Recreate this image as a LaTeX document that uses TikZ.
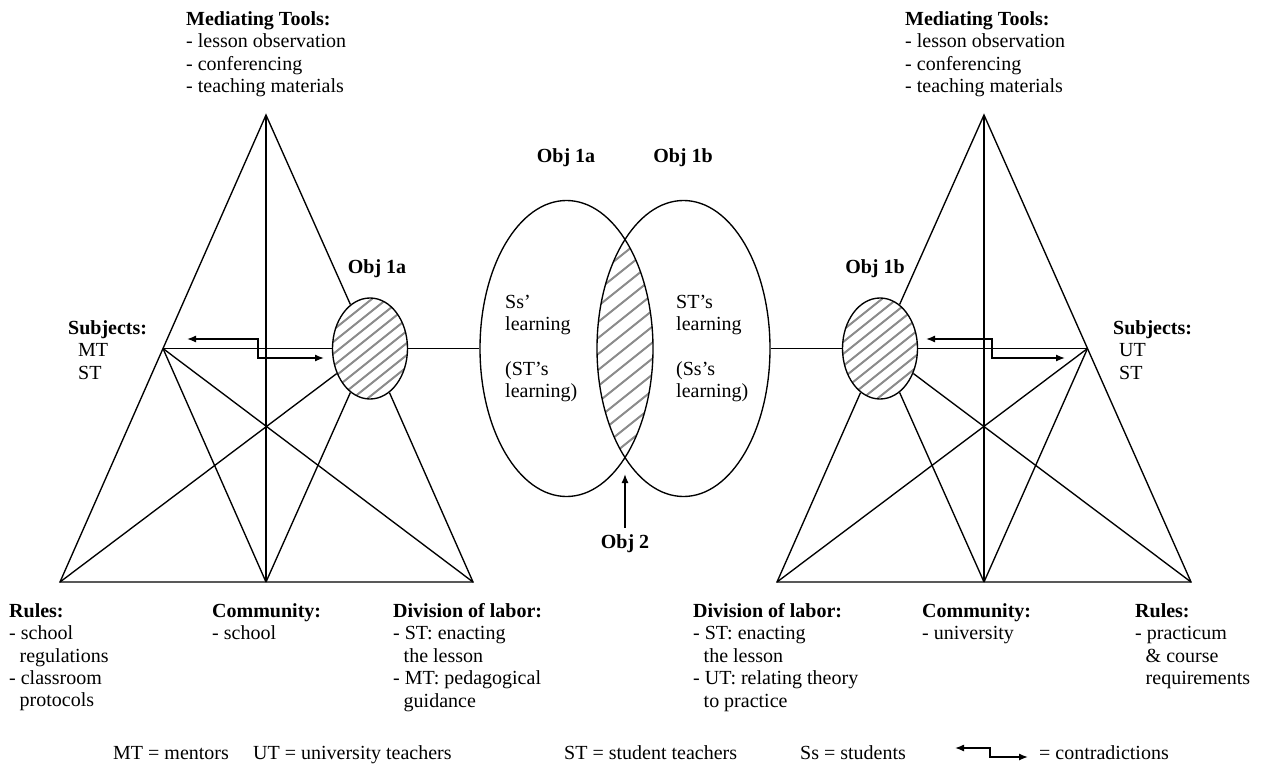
\documentclass[tikz,border=0pt]{standalone}
\usepackage{fontspec}
\setmainfont{Liberation Serif}
\usetikzlibrary{shapes.geometric,arrows.meta}
\begin{document}
\begin{tikzpicture}[x=1pt,y=-1pt,
  ln/.style={line width=1.35pt, black},
  tip/.style={-{Latex[length=9pt,width=7pt]}},
  dtip/.style={{Latex[length=9pt,width=7pt]}-{Latex[length=9pt,width=7pt]}},
  txt/.style={font=\fontsize{20}{22.4}\selectfont, inner sep=0pt, align=left},
  hd/.style={inner sep=0pt, font=\fontsize{20}{22.4}\selectfont\bfseries},
  hatchline/.style={line width=2pt, black!45},
  smallobj/.style={ellipse, draw, line width=1.35pt, fill=white, inner sep=0pt,
    minimum width=75pt, minimum height=101pt,
    path picture={\foreach \k in {-8,...,8}{\draw[hatchline] ([xshift=\k*15pt]path picture bounding box.center) ++(-70pt,-56pt) -- ++(140pt,112pt);}}},
  bigobj/.style={ellipse, draw, line width=1.35pt, inner sep=0pt,
    minimum width=173pt, minimum height=296pt}
]
\useasboundingbox (0,0) rectangle (1264,768);
\fill[white] (0,0) rectangle (1264,768);

% ---- central lens hatching ----
\begin{scope}
  \clip (566.5,348.5) ellipse [x radius=86.5pt, y radius=148pt];
  \clip (683.5,348.5) ellipse [x radius=86.5pt, y radius=148pt];
  \foreach \k in {-14,...,14}{\draw[hatchline] ([xshift=\k*20pt]625,348.5) ++(-200pt,-160pt) -- ++(400pt,320pt);}
\end{scope}
\node[bigobj] (E1) at (566.5,348.5) {};
\node[bigobj] (E2) at (683.5,348.5) {};

% ---- left triangle ----
\coordinate (A1) at (266,115);
\coordinate (R1) at (60,582);
\coordinate (C1) at (266,582);
\coordinate (D1) at (473,582);
\coordinate (S1) at (163,348.5);
\node[smallobj] (O1) at (370,348.5) {};
\draw[ln] (O1) -- (A1) -- (R1) -- (D1) -- (O1);
\draw[ln] (A1) -- (C1);
\draw[ln] (S1) -- (O1);
\draw[ln] (S1) -- (C1);
\draw[ln] (S1) -- (D1);
\draw[ln] (O1) -- (R1);
\draw[ln] (O1) -- (C1);
\draw[ln] (O1) -- (E1);

% ---- right triangle ----
\coordinate (A2) at (984,115);
\coordinate (D2) at (777,582);
\coordinate (C2) at (984,582);
\coordinate (R2) at (1191,582);
\coordinate (S2) at (1087.5,348.5);
\node[smallobj] (O2) at (880,348.5) {};
\draw[ln] (O2) -- (A2) -- (R2) -- (D2) -- (O2);
\draw[ln] (A2) -- (C2);
\draw[ln] (S2) -- (O2);
\draw[ln] (S2) -- (C2);
\draw[ln] (S2) -- (D2);
\draw[ln] (O2) -- (R2);
\draw[ln] (O2) -- (C2);
\draw[ln] (E2) -- (O2);

% ---- contradiction arrows ----
\coordinate (ca1) at (187,339);
\coordinate (cb1) at (258,339);
\coordinate (cc1) at (258,358);
\coordinate (cd1) at (324,358);
\draw[ln,dtip] (ca1) -- (cb1) -- (cc1) -- (cd1);
\coordinate (ca2) at (926,339);
\coordinate (cb2) at (992,339);
\coordinate (cc2) at (992,358);
\coordinate (cd2) at (1065,358);
\draw[ln,dtip] (ca2) -- (cb2) -- (cc2) -- (cd2);

% ---- Obj 2 ----
\node[hd, anchor=base] (o2) at (625,548) {Obj 2};
\coordinate (o2tip) at (625,474);
\draw[ln,tip] ([yshift=6pt]o2.north) -- (o2tip);

% ---- labels ----
\node[hd, anchor=base] (l1a) at (377,273) {Obj 1a};
\node[hd, anchor=base] (l1b) at (875,273) {Obj 1b};
\node[hd, anchor=base] (c1a) at (566,162) {Obj 1a};
\node[hd, anchor=base] (c1b) at (683,162) {Obj 1b};

\node[txt, anchor=north west] (tools1) at (186,11.3) {\textbf{Mediating Tools:}\\- lesson observation\\- conferencing\\- teaching materials};
\node[txt, anchor=north west] (tools2) at (905,11.3) {\textbf{Mediating Tools:}\\- lesson observation\\- conferencing\\- teaching materials};

\node[txt, anchor=north west] (subj1) at (68,320.3) {\textbf{Subjects:}\\\hspace*{10pt}MT\\\hspace*{10pt}ST};
\node[txt, anchor=north west] (subj2) at (1113,320.3) {\textbf{Subjects:}\\\hspace*{6pt}UT\\\hspace*{6pt}ST};

\node[txt, anchor=north west] (ssl) at (505,294.7) {Ss’\\learning\\[22.4pt](ST’s\\learning)};
\node[txt, anchor=north west] (stl) at (676,294.7) {ST’s\\learning\\[22.4pt](Ss’s\\learning)};

\node[txt, anchor=north west] (rules1) at (9,603.3) {\textbf{Rules:}\\- school\\\hspace*{10.5pt}regulations\\- classroom\\\hspace*{10.5pt}protocols};
\node[txt, anchor=north west] (comm1) at (212,603.3) {\textbf{Community:}\\- school};
\node[txt, anchor=north west] (div1) at (393,603.3) {\textbf{Division of labor:}\\- ST: enacting\\\hspace*{10.5pt}the lesson\\- MT: pedagogical\\\hspace*{10.5pt}guidance};

\node[txt, anchor=north west] (div2) at (693,603.3) {\textbf{Division of labor:}\\- ST: enacting\\\hspace*{10.5pt}the lesson\\- UT: relating theory\\\hspace*{10.5pt}to practice};
\node[txt, anchor=north west] (comm2) at (922,603.3) {\textbf{Community:}\\- university};
\node[txt, anchor=north west] (rules2) at (1135,603.3) {\textbf{Rules:}\\- practicum\\\hspace*{10.5pt}\& course\\\hspace*{10.5pt}requirements};

% ---- legend ----
\node[txt, anchor=base west] (lg1) at (113,759) {MT = mentors};
\node[txt, anchor=base west] (lg2) at (253,759) {UT = university teachers};
\node[txt, anchor=base west] (lg3) at (564,759) {ST = student teachers};
\node[txt, anchor=base west] (lg4) at (800,759) {Ss = students};
\coordinate (la) at (955,748);
\coordinate (lb) at (990,748);
\coordinate (lc) at (990,757);
\coordinate (ld) at (1028,757);
\draw[ln,dtip] (la) -- (lb) -- (lc) -- (ld);
\node[txt, anchor=base west] (lg5) at (1039,759) {= contradictions};
\end{tikzpicture}
\end{document}
